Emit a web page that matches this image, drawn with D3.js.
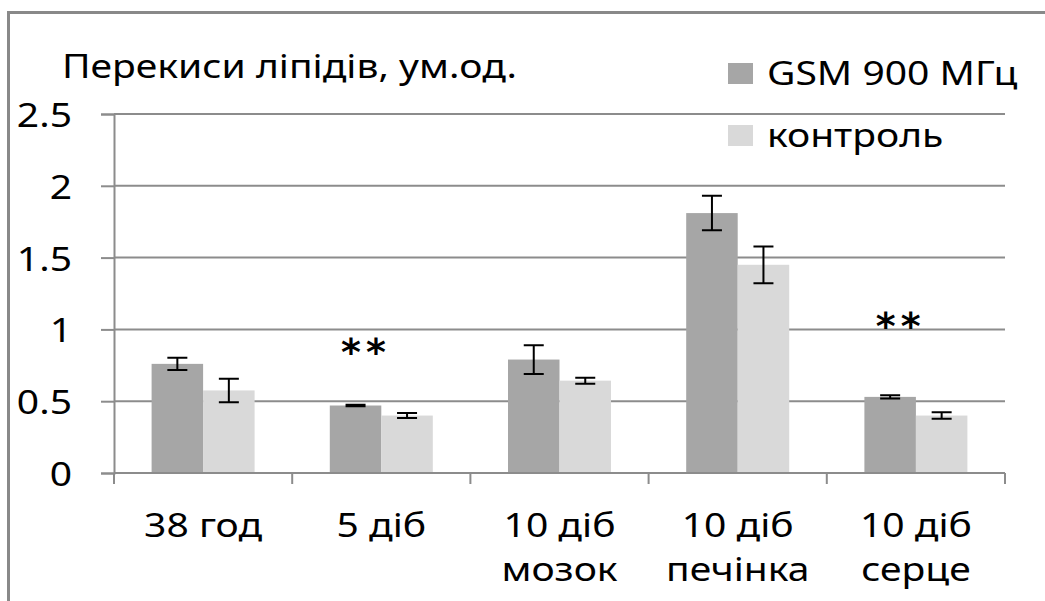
<!DOCTYPE html>
<html>
<head>
<meta charset="utf-8">
<script src="https://cdn.jsdelivr.net/npm/d3@7"></script>
<style>
  html, body { margin: 0; padding: 0; background: #fff; }
  svg { display: block; }
  text { font-family: "Noto Sans", "Open Sans", sans-serif; fill: #000; }
</style>
</head>
<body>
<svg id="chart" width="1045" height="601"></svg>
<script>
// Lipid peroxides (arbitrary units), GSM 900 MHz exposure vs control
const categories = ["38 год", "5 діб", "10 діб мозок", "10 діб печінка", "10 діб серце"];
const categoryLines = [["38 год"], ["5 діб"], ["10 діб", "мозок"], ["10 діб", "печінка"], ["10 діб", "серце"]];
const seriesNames = ["GSM 900 МГц", "контроль"];
const gsmValues = [0.76, 0.47, 0.79, 1.81, 0.53];
const gsmErrors = [0.042, 0.006, 0.10, 0.12, 0.012];
const controlValues = [0.575, 0.40, 0.643, 1.45, 0.40];
const controlErrors = [0.082, 0.017, 0.021, 0.128, 0.023];
const significance = ["", "**", "", "", "**"];
const significanceLevel = [null, 0.90, null, null, 1.08];
const yTicks = [0, 0.5, 1, 1.5, 2, 2.5];
const yTickLabels = ["0", "0.5", "1", "1.5", "2", "2.5"];
const yTitle = "Перекиси ліпідів, ум.од.";

const colors = { "GSM 900 МГц": "#a6a6a6", "контроль": "#d9d9d9" };
const axisColor = "#8c8c8c";
const textStretch = 1.22;   // horizontal stretch applied to all labels

const svg = d3.select("#chart");

const plot = { left: 114, right: 1005, top: 114, bottom: 473 };

const x0 = d3.scaleBand().domain(categories).range([plot.left, plot.right]).paddingInner(0).paddingOuter(0);
const x1 = d3.scaleBand().domain(seriesNames).range([0, x0.bandwidth()]).paddingInner(0).paddingOuter(0.73);
const y = d3.scaleLinear().domain([0, 2.5]).range([plot.bottom, plot.top]);

// stretched text helper
function stretchedText(sel, x, yPos, str, anchor) {
  return sel.append("text")
    .attr("transform", `translate(${x},${yPos}) scale(${textStretch},1)`)
    .attr("text-anchor", anchor || "start")
    .text(str);
}

// outer frame (left and top edges)
svg.append("path")
  .attr("d", `M8.5,601 L8.5,12.5 L1045,12.5`)
  .attr("fill", "none").attr("stroke", "#898989").attr("stroke-width", 3);

// horizontal gridlines
svg.append("g").selectAll("line").data(yTicks.filter(d => d > 0)).join("line")
  .attr("x1", plot.left).attr("x2", plot.right)
  .attr("y1", d => y(d)).attr("y2", d => y(d))
  .attr("stroke", axisColor).attr("stroke-width", 2);

// y axis
const yAxis = svg.append("g").attr("transform", `translate(${plot.left},0)`)
  .call(d3.axisLeft(y).tickValues(yTicks).tickSize(13).tickFormat(""));
yAxis.select(".domain").attr("stroke", axisColor).attr("stroke-width", 2);
yAxis.selectAll(".tick line").attr("stroke", axisColor).attr("stroke-width", 2);

const yLabelG = svg.append("g").style("font-size", "32px");
yTicks.forEach((t, i) => {
  stretchedText(yLabelG, 72, y(t) + 13, yTickLabels[i], "end");
});

// bars
const groups = svg.append("g").selectAll("g").data(categories).join("g")
  .attr("transform", d => `translate(${x0(d)},0)`);

const seriesData = [
  { name: seriesNames[0], values: gsmValues, errors: gsmErrors },
  { name: seriesNames[1], values: controlValues, errors: controlErrors }
];

seriesData.forEach(s => {
  groups.append("rect")
    .attr("x", x1(s.name))
    .attr("width", x1.bandwidth())
    .attr("y", (d, i) => y(s.values[i]))
    .attr("height", (d, i) => y(0) - y(s.values[i]))
    .attr("fill", colors[s.name]);
});

// error bars
const capHalf = 10;
seriesData.forEach(s => {
  const cx = x1(s.name) + x1.bandwidth() / 2;
  const eb = groups.append("g").attr("stroke", "#000").attr("stroke-width", 2).attr("fill", "none");
  eb.append("path").attr("d", (d, i) => {
    const hi = y(s.values[i] + s.errors[i]);
    const lo = y(s.values[i] - s.errors[i]);
    return `M${cx},${hi} L${cx},${lo} M${cx - capHalf},${hi} L${cx + capHalf},${hi} M${cx - capHalf},${lo} L${cx + capHalf},${lo}`;
  });
});

// x axis
const xAxisG = svg.append("g");
xAxisG.append("line")
  .attr("x1", plot.left).attr("x2", plot.right)
  .attr("y1", plot.bottom).attr("y2", plot.bottom)
  .attr("stroke", axisColor).attr("stroke-width", 2);
const boundaries = categories.map(c => x0(c)).concat([plot.right]);
xAxisG.selectAll("line.tick").data(boundaries).join("line").attr("class", "tick")
  .attr("x1", d => d).attr("x2", d => d)
  .attr("y1", plot.bottom).attr("y2", plot.bottom + 11)
  .attr("stroke", axisColor).attr("stroke-width", 2);

const xLabelG = svg.append("g").style("font-size", "32px");
categories.forEach((c, i) => {
  categoryLines[i].forEach((line, j) => {
    stretchedText(xLabelG, x0(c) + x0.bandwidth() / 2, 537 + j * 44, line, "middle");
  });
});

// significance marks, one glyph per character
categories.forEach((c, i) => {
  if (!significance[i]) return;
  const cx = x0(c) + x1(seriesNames[0]) + x1.bandwidth() / 2 + 8;
  const chars = significance[i].split("");
  const gap = 25;
  chars.forEach((ch, k) => {
    svg.append("text")
      .attr("x", cx + (k - (chars.length - 1) / 2) * gap)
      .attr("y", y(significanceLevel[i]) + 21)
      .attr("text-anchor", "middle")
      .style("font-family", "DejaVu Sans, sans-serif")
      .style("font-weight", "bold")
      .style("font-size", "38px")
      .text(ch);
  });
});

// axis title
const titleG = svg.append("g").style("font-size", "32px");
stretchedText(titleG, 62, 78, yTitle, "start");

// legend
const legend = svg.append("g").style("font-size", "32px");
const legendRows = [85, 147];
seriesNames.forEach((name, i) => {
  legend.append("rect")
    .attr("x", 728).attr("y", legendRows[i] - 22)
    .attr("width", 25).attr("height", 21)
    .attr("fill", colors[name]);
  stretchedText(legend, 767, legendRows[i], name, "start");
});
</script>
</body>
</html>
